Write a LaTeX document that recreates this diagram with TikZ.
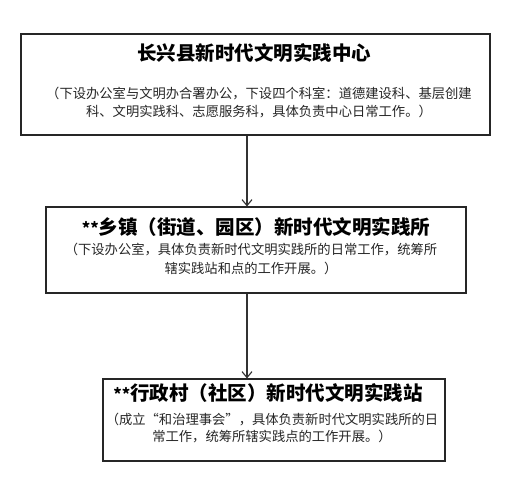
\documentclass[tikz,border=0pt]{standalone}
\usepackage{fontspec}
\newfontfamily\cjk{Noto Sans CJK SC}
\usetikzlibrary{arrows.meta}
\begin{document}
\begin{tikzpicture}[x=1pt,y=-1pt,
  boxstyle/.style={draw=black!85,line width=1.1pt,rectangle,inner sep=0pt},
  titlestyle/.style={font=\cjk\bfseries\fontsize{19.5}{22}\selectfont,text=black,inner sep=0pt},
  bodystyle/.style={font=\cjk\fontsize{13.3}{18.5}\selectfont,text=black!85,align=center,inner sep=0pt},
  arrowstyle/.style={draw=black!80,line width=1.1pt,-{Straight Barb[length=6pt,width=10pt,line width=1.1pt]}}]
\useasboundingbox (0,0) rectangle (509,499);
\fill[white] (0,0) rectangle (509,499);

\node[boxstyle,minimum width=469pt,minimum height=101pt] (b1) at (255.5,84.5) {};
\node[boxstyle,minimum width=420pt,minimum height=86pt] (b2) at (256,250) {};
\node[boxstyle,minimum width=342pt,minimum height=82pt] (b3) at (274,420) {};

\node[titlestyle] (t1) at (254,53) {长兴县新时代文明实践中心};
\node[bodystyle] (s1) at (259,102.5) {（下设办公室与文明办合署办公，下设四个科室：道德建设科、基层创建\\科、文明实践科、志愿服务科，具体负责中心日常工作。）};

\node[titlestyle] (t2) at (256,227) {{\fontsize{16}{20}\selectfont **}乡镇（街道、园区）新时代文明实践所};
\node[bodystyle] (s2) at (251,259) {（下设办公室，具体负责新时代文明实践所的日常工作，统筹所\\辖实践站和点的工作开展。）};

\node[titlestyle] (t3) at (268,393) {{\fontsize{16}{20}\selectfont **}行政村（社区）新时代文明实践站};
\node[bodystyle,font=\cjk\fontsize{13.3}{17}\selectfont] (s3) at (272,428.5) {（成立“和治理事会”，具体负责新时代文明实践所的日\\常工作，统筹所辖实践点的工作开展。）};

\coordinate (ax) at (247,0);
\draw[arrowstyle] (b1.south -| ax) -- (b2.north -| ax);
\draw[arrowstyle] (b2.south -| ax) -- (b3.north -| ax);
\end{tikzpicture}
\end{document}
